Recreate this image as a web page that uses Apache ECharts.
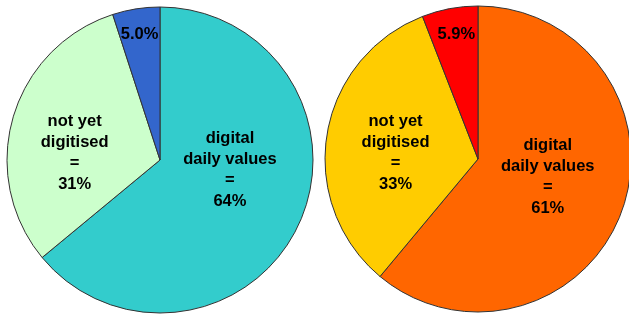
<!DOCTYPE html>
<html>
<head>
<meta charset="utf-8">
<script src="https://cdn.jsdelivr.net/npm/echarts@6/dist/echarts.min.js"></script>
<style>
  html,body{margin:0;padding:0;background:#fff;}
  #main{width:629px;height:315px;}
</style>
</head>
<body>
<div id="main"></div>
<script>
// slice names, same for both pies
var names = ['digital\ndaily values', 'not yet\ndigitised', '']
// percentages
var leftValues = [64, 31, 5.0]
var rightValues = [61, 33, 5.9]
var leftLabels = ['64%', '31%', '5.0%']
var rightLabels = ['61%', '33%', '5.9%']
var leftColors = ['#33CCCC', '#CCFFCC', '#3366CC']
var rightColors = ['#FF6600', '#FFCC00', '#FF0000']

// nudges for the inside labels
var leftShift = [[-2, -24], [-9, 15], [-8, -47]]
var rightShift = [[-5, -9], [-4, 7], [-7, -46]]

var myChart = echarts.init(document.getElementById('main'))

function makePie(center, values, labels, colors, shift) {
  return {
    type: 'pie',
    center: center,
    radius: 153,
    startAngle: 90,
    clockwise: true,
    animation: false,
    silent: true,
    itemStyle: {
      borderColor: '#333',
      borderWidth: 1
    },
    label: {
      position: 'inside',
      color: '#000',
      fontFamily: 'Liberation Sans, Arial, sans-serif',
      fontWeight: 'bold',
      fontSize: 16.5,
      lineHeight: 21,
      align: 'center',
      formatter: function (p) {
        if (p.dataIndex === 2) return labels[2]
        return p.name + '\n=\n' + labels[p.dataIndex]
      }
    },
    labelLine: { show: false },
    labelLayout: function (p) {
      return { dx: shift[p.dataIndex][0], dy: shift[p.dataIndex][1] }
    },
    data: values.map(function (v, i) {
      return { name: names[i], value: v, itemStyle: { color: colors[i] } }
    })
  }
}

myChart.setOption({
  backgroundColor: '#fff',
  series: [
    makePie([160, 160], leftValues, leftLabels, leftColors, leftShift),
    makePie([478, 159], rightValues, rightLabels, rightColors, rightShift)
  ]
})
</script>
</body>
</html>
